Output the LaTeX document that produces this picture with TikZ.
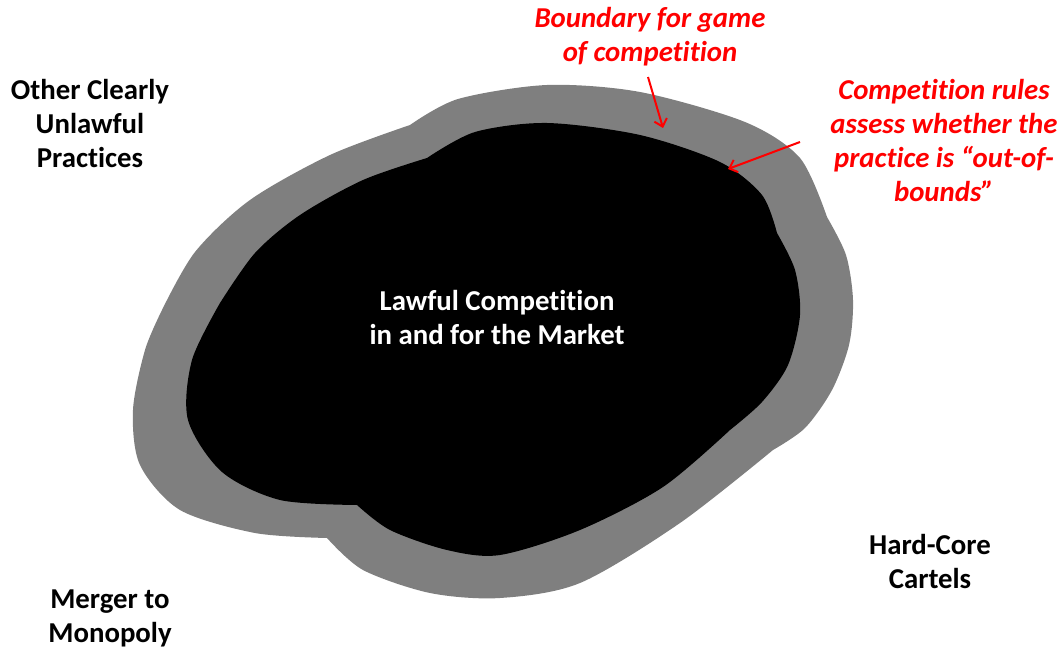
\documentclass[tikz,border=0pt]{standalone}
\usepackage{fontspec}
\setmainfont{Carlito}[Ligatures={NoCommon,NoRequired,NoContextual}]
\usetikzlibrary{arrows.meta}
\definecolor{bandgray}{RGB}{127,127,127}
\definecolor{notered}{RGB}{255,0,0}
\newcommand{\tibreak}{\kern0pt }
\begin{document}
\begin{tikzpicture}[x=1pt,y=-1pt,
  lbl/.style={font=\fontsize{28.8}{34}\selectfont\bfseries, align=center, inner sep=0pt},
  redlbl/.style={lbl, text=notered, font=\fontsize{28.8}{34}\selectfont\bfseries\itshape},
  redarrow/.style={draw=notered, line width=2pt, -{Straight Barb[length=7pt,width=13pt,line width=2pt]}}]
\useasboundingbox (0,0) rectangle (1063,650);
% gray boundary band
\fill[bandgray]
  plot[smooth] coordinates {(410,125) (458,99) (547,85) (640,92) (745,122) (800,158) (827,217)}
  -- plot[smooth] coordinates {(827,217) (846,255) (853,300) (849,345) (832,390) (805,428) (773,450)}
  -- plot[smooth] coordinates {(773,450) (680,523) (580,583) (500,598) (430,593) (363,570) (327,538)}
  -- plot[smooth] coordinates {(327,538) (255,533) (180,510) (140,465) (133,410) (145,350) (162,310)}
  -- plot[smooth] coordinates {(162,310) (195,252) (250,200) (330,155) (410,125)}
  -- cycle;
% black core
\fill[black]
  plot[smooth] coordinates {(427,158) (475,132) (547,123) (640,135) (720,162) (762,195) (777,233)}
  -- plot[smooth] coordinates {(777,233) (795,270) (800,315) (788,365) (762,402) (730,430)}
  -- plot[smooth] coordinates {(730,430) (663,487) (580,530) (500,555) (447,550) (390,530) (357,505)}
  -- plot[smooth] coordinates {(357,505) (280,500) (222,472) (188,420) (192,360) (220,303)}
  -- plot[smooth] coordinates {(220,303) (255,253) (300,215) (363,180) (427,158)}
  -- cycle;
% labels
\node[lbl, text=white] (lawful) at (497,317) {Lawful Competit\tibreak ion\\in and for the Market};
\node[lbl] (other) at (90,124) {Other Clearly\\Unlawful\\Practices};
\node[lbl] (merger) at (110,618) {Merger to\\Monopoly};
\node[lbl] (cartels) at (930,561) {Hard-Core\\Cartels};
\node[redlbl] (boundary) at (650,37) {Boundary for game\\of competit\tibreak ion};
\node[redlbl] (rules) at (944,141) {Competit\tibreak ion rules\\assess whether the\\practice is “out-of-\\bounds”};
% arrows
\coordinate (b1) at (648,77);
\coordinate (b2) at (663,128);
\coordinate (r1) at (800,142);
\coordinate (r2) at (728,169);
\draw[redarrow] (b1) -- (b2);
\draw[redarrow] (r1) -- (r2);
\end{tikzpicture}
\end{document}
